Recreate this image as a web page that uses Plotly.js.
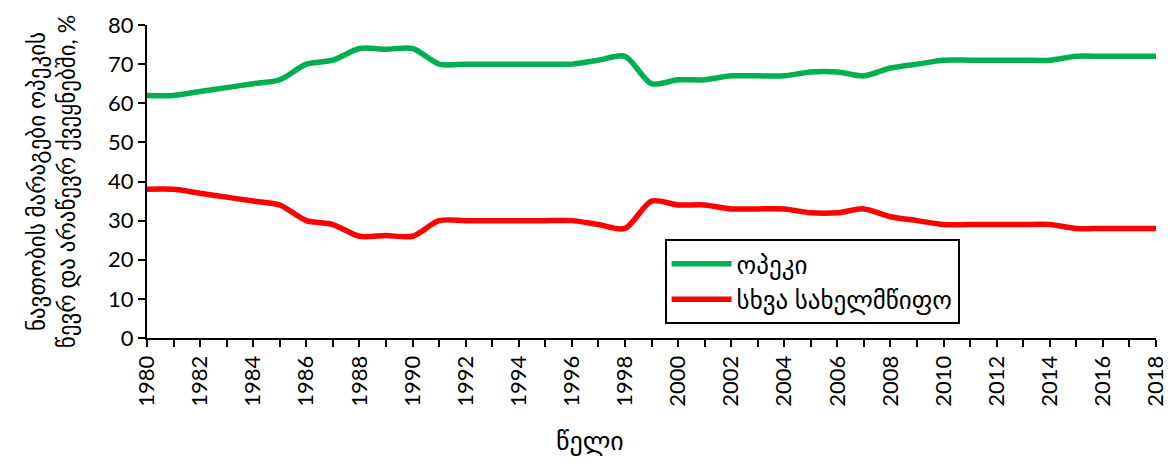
<!DOCTYPE html>
<html>
<head>
<meta charset="utf-8">
<script src="https://cdn.plot.ly/plotly-3.0.1.min.js"></script>
<style>html,body{margin:0;padding:0;background:#fff;}#chart{width:1176px;height:467px;}</style>
</head>
<body>
<div id="chart"></div>
<script>
const years = [1980,1981,1982,1983,1984,1985,1986,1987,1988,1989,1990,1991,1992,1993,1994,1995,1996,1997,1998,1999,2000,2001,2002,2003,2004,2005,2006,2007,2008,2009,2010,2011,2012,2013,2014,2015,2016,2017,2018];
const opec = [62,62,63,64,65,66,70,71,74,73.8,74,70,70,70,70,70,70,71,72,65,66,66,67,67,67,68,68,67,69,70,71,71,71,71,71,72,72,72,72];
const other = [38,38,37,36,35,34,30,29,26,26.2,26,30,30,30,30,30,30,29,28,35,34,34,33,33,33,32,32,33,31,30,29,29,29,29,29,28,28,28,28];
const seriesNames = ['ოპეკი','სხვა სახელმწიფო'];
const yTitle = 'ნავთობის მარაგები ოპეკის<br>წევრ და არაწევრ ქვეყნებში, %';
const xTitle = 'წელი';
const xTickText = years.map(y => (y % 2 === 0 ? String(y) : ''));

const font = 'Lato, "DejaVu Sans", sans-serif';

const traces = [
  {x: years, y: opec, name: seriesNames[0], mode: 'lines',
   line: {color: '#00B050', width: 5.5, shape: 'spline', smoothing: 0.8}},
  {x: years, y: other, name: seriesNames[1], mode: 'lines',
   line: {color: '#FF0000', width: 5.5, shape: 'spline', smoothing: 0.8}}
];

const layout = {
  width: 1176, height: 467,
  margin: {l: 147, r: 20, t: 25, b: 129},
  paper_bgcolor: '#fff', plot_bgcolor: '#fff',
  font: {family: font, size: 22, color: '#000'},
  showlegend: true,
  legend: {x: 0.513, y: 0.316, xanchor: 'left', yanchor: 'top',
    bordercolor: '#000', borderwidth: 2, bgcolor: '#fff',
    font: {size: 25, family: font}, tracegroupgap: 12, itemwidth: 60},
  xaxis: {
    range: [1980, 2018], tickmode: 'array', tickvals: years, ticktext: xTickText,
    tickangle: -90, ticks: 'outside', ticklen: 7, tickwidth: 2, tickcolor: '#000',
    showline: true, linecolor: '#000', linewidth: 2, showgrid: false, zeroline: false,
    tickfont: {size: 22, family: font}
  },
  yaxis: {
    range: [0, 80], dtick: 10, ticks: 'outside', ticklen: 7, tickwidth: 2, tickcolor: '#000',
    showline: true, linecolor: '#000', linewidth: 2, showgrid: false, zeroline: false,
    tickfont: {size: 22, family: font},
    title: {text: yTitle, font: {size: 23, family: font}, standoff: 26}
  },
  annotations: [{
    text: xTitle, xref: 'paper', yref: 'paper', x: 0.439, y: -0.326,
    xanchor: 'center', yanchor: 'middle', showarrow: false,
    font: {size: 26, family: font}
  }]
};

Plotly.newPlot('chart', traces, layout, {displayModeBar: false, staticPlot: true});
</script>
</body>
</html>
